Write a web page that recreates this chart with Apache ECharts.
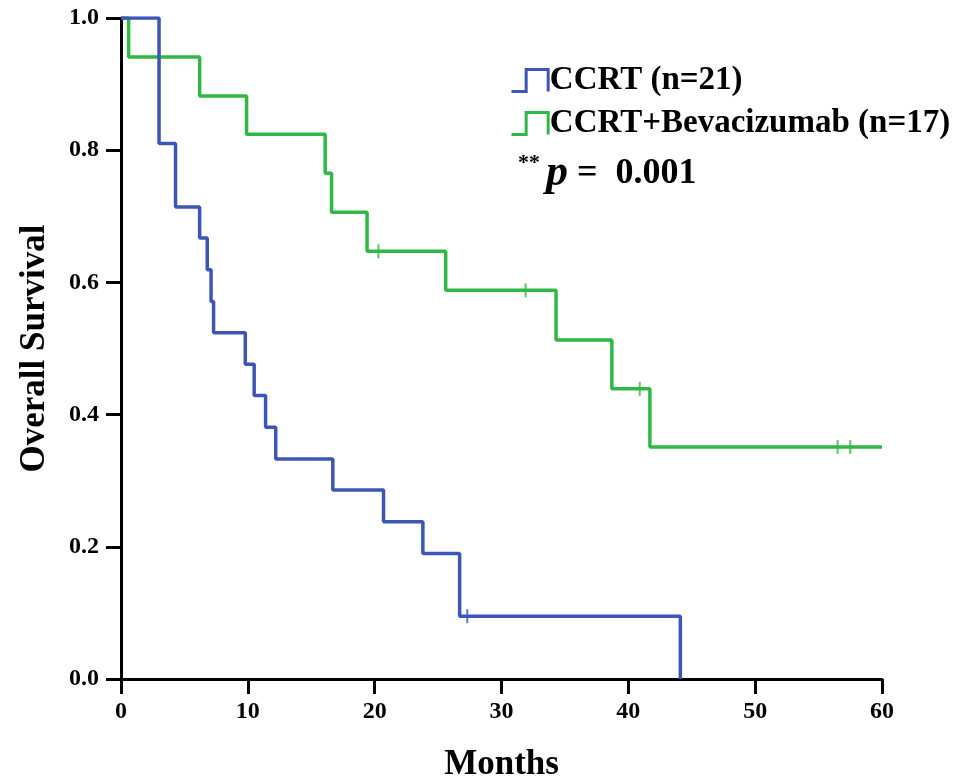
<!DOCTYPE html>
<html>
<head>
<meta charset="utf-8">
<script src="https://cdn.jsdelivr.net/npm/echarts@6/dist/echarts.min.js"></script>
<style>
  html, body { margin: 0; padding: 0; background: #fff; }
  #chart { width: 978px; height: 780px; }
</style>
</head>
<body>
<div id="chart"></div>
<script>
// Kaplan–Meier overall survival, two treatment arms
const ccrtTimes = [0, 3.0, 4.3, 6.2, 6.8, 7.1, 7.3, 9.8, 10.5, 11.4, 12.2, 16.7, 20.7, 23.8, 26.7, 44.1];
const ccrtSurv  = [1.0, 0.810, 0.714, 0.667, 0.619, 0.571, 0.524, 0.476, 0.429, 0.381, 0.333, 0.286, 0.238, 0.190, 0.095, 0.0];
const ccrtCensorTimes = [27.3];
const ccrtCensorSurv  = [0.095];

const bevTimes = [0, 0.6, 6.2, 9.9, 16.1, 16.6, 19.4, 25.6, 34.3, 38.7, 41.7, 60];
const bevSurv  = [1.0, 0.941, 0.882, 0.824, 0.765, 0.706, 0.647, 0.588, 0.513, 0.439, 0.351, 0.351];
const bevCensorTimes = [20.3, 31.9, 40.9, 56.5, 57.5];
const bevCensorSurv  = [0.647, 0.588, 0.439, 0.351, 0.351];

const seriesNames = ['CCRT (n=21)', 'CCRT+Bevacizumab (n=17)'];
const xTicks = [0, 10, 20, 30, 40, 50, 60];
const yTicks = [0.0, 0.2, 0.4, 0.6, 0.8, 1.0];

const BLUE = '#3d56b5';
const GREEN = '#2fb845';
const FONT = '"Liberation Serif", "Times New Roman", serif';

const zip = (a, b) => a.map((v, i) => [v, b[i]]);

const chart = echarts.init(document.getElementById('chart'));

const axisCommon = {
  axisLine: { show: true, lineStyle: { color: '#000', width: 3 } },
  axisTick: { show: true, length: 15, lineStyle: { color: '#000', width: 3 } },
  splitLine: { show: false },
  nameTextStyle: { fontFamily: FONT, fontWeight: 'bold', color: '#000', fontSize: 35 },
  axisLabel: { fontFamily: FONT, color: '#000', fontSize: 24, fontWeight: 'bold' }
};

// step-shaped legend glyph
const stepIcon = 'path://M0,20 L12,20 L12,2 L30,2 L30,20';

chart.setOption({
  animation: false,
  backgroundColor: '#fff',
  grid: { left: 121, right: 96, top: 18, bottom: 101, containLabel: false, outerBoundsMode: 'none' },
  xAxis: Object.assign({}, axisCommon, {
    type: 'value',
    min: xTicks[0], max: xTicks[xTicks.length - 1], interval: 10,
    name: 'Months', nameLocation: 'middle', nameGap: 68,
    axisLabel: Object.assign({}, axisCommon.axisLabel, { margin: 21 })
  }),
  yAxis: Object.assign({}, axisCommon, {
    type: 'value',
    min: yTicks[0], max: yTicks[yTicks.length - 1], interval: 0.2,
    name: 'Overall Survival', nameLocation: 'middle', nameGap: 69,
    axisLabel: Object.assign({}, axisCommon.axisLabel, {
      margin: 22, formatter: v => v.toFixed(1)
    })
  }),
  legend: {
    data: [
      { name: seriesNames[0], icon: stepIcon,
        itemStyle: { color: 'transparent', borderColor: BLUE, borderWidth: 3 } },
      { name: seriesNames[1], icon: stepIcon,
        itemStyle: { color: 'transparent', borderColor: GREEN, borderWidth: 3 } }
    ],
    orient: 'vertical',
    left: 505, top: 59,
    itemWidth: 42, itemHeight: 22, itemGap: 10,
    textStyle: { fontFamily: FONT, fontWeight: 'bold', fontSize: 33, color: '#000', padding: [0, 0, 0, -6] }
  },
  graphic: [{
    type: 'text',
    left: 518, top: 152,
    style: {
      text: '{s|**}  {p|p}   {v|=  0.001}',
      fontFamily: FONT,
      rich: {
        s: { fontFamily: FONT, fontSize: 22, fontWeight: 'bold', verticalAlign: 'top', padding: [0, 0, 16, 0] },
        p: { fontFamily: FONT, fontSize: 44, fontWeight: 'bold', fontStyle: 'italic' },
        v: { fontFamily: FONT, fontSize: 36, fontWeight: 'bold' }
      },
      fill: '#000'
    }
  }],
  series: [
    {
      name: seriesNames[0], type: 'line', step: 'end', symbol: 'none',
      data: zip(ccrtTimes, ccrtSurv),
      lineStyle: { color: BLUE, width: 3.5 }, itemStyle: { color: BLUE }, z: 3
    },
    {
      name: seriesNames[1], type: 'line', step: 'end', symbol: 'none',
      data: zip(bevTimes, bevSurv),
      lineStyle: { color: GREEN, width: 3.5 }, itemStyle: { color: GREEN }, z: 2
    },
    {
      type: 'scatter', symbol: 'rect', symbolSize: [2, 14],
      data: zip(ccrtCensorTimes, ccrtCensorSurv),
      itemStyle: { color: BLUE }, z: 4
    },
    {
      type: 'scatter', symbol: 'rect', symbolSize: [2, 14],
      data: zip(bevCensorTimes, bevCensorSurv),
      itemStyle: { color: GREEN }, z: 4
    }
  ]
});
</script>
</body>
</html>
